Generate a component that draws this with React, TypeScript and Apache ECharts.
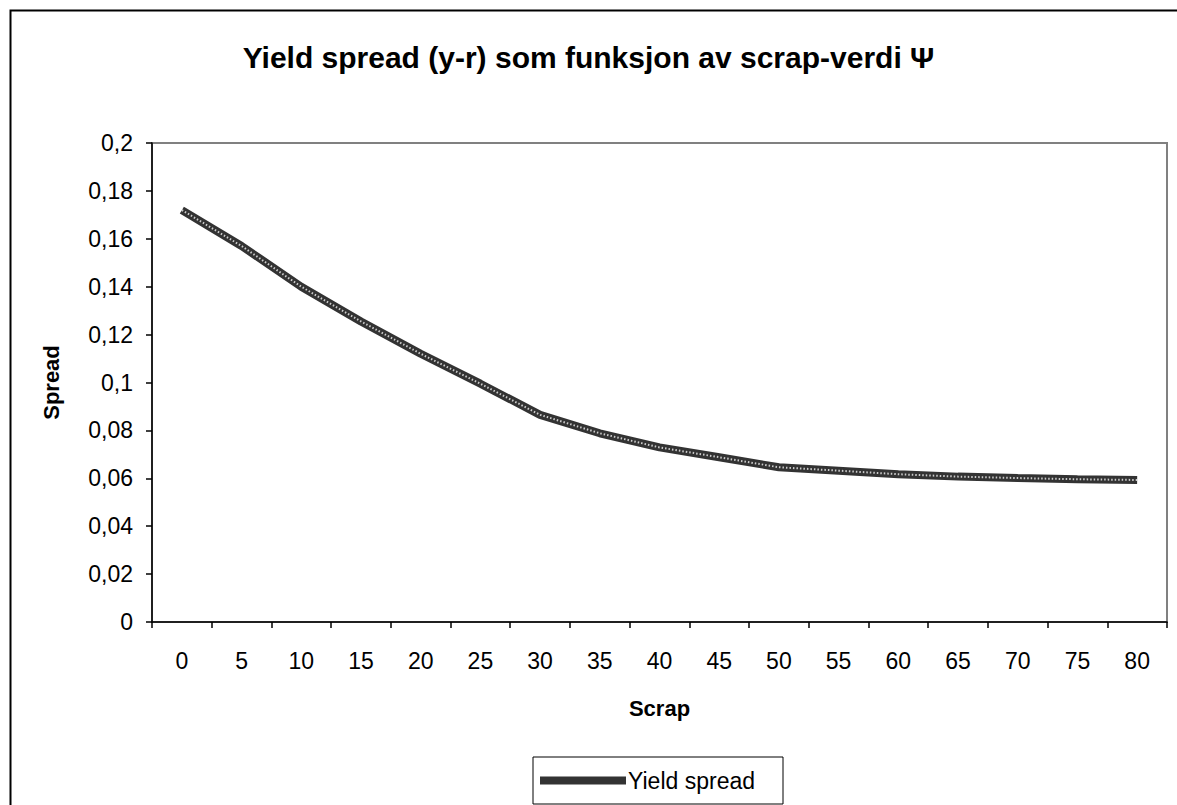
import React, { useEffect, useRef } from "react";
import * as echarts from "echarts";

const categories = ["0", "5", "10", "15", "20", "25", "30", "35", "40", "45", "50", "55", "60", "65", "70", "75", "80"];
const spreadValues = [0.172, 0.157, 0.140, 0.1255, 0.112, 0.0995, 0.0865, 0.0788, 0.0729, 0.0688, 0.0646, 0.0632, 0.0617, 0.0607, 0.0601, 0.0596, 0.0593];
const seriesName = "Yield spread";
const titleText = "Yield spread (y-r) som funksjon av scrap-verdi \u03A8";
const xName = "Scrap";
const yName = "Spread";

const FONT = "'Liberation Sans', Arial, sans-serif";

export default function App() {
  const ref = useRef<HTMLDivElement>(null);
  useEffect(() => {
    if (!ref.current) return;
    const chart = echarts.init(ref.current, null, { renderer: "svg" });
    chart.setOption({
      animation: false,
      backgroundColor: "#fff",
      title: {
        text: titleText,
        left: "center",
        top: 37,
        textStyle: { fontFamily: FONT, fontWeight: "bold", fontSize: 30, color: "#000" },
      },
      legend: {
        left: 533,
        top: 757,
        padding: [12, 28, 12, 7],
        borderColor: "#000",
        borderWidth: 1,
        backgroundColor: "#fff",
        itemWidth: 86,
        itemHeight: 8,
        data: [{ name: seriesName, icon: "rect" }],
        textStyle: { fontFamily: FONT, fontSize: 23, color: "#000", padding: [0, 0, 0, -3] },
      },
      grid: {
        left: 152,
        top: 143,
        width: 1015,
        height: 479,
        show: true,
        borderColor: "#808080",
        borderWidth: 2,
        backgroundColor: "#fff",
      },
      xAxis: {
        type: "category",
        data: categories,
        boundaryGap: true,
        name: xName,
        nameLocation: "middle",
        nameGap: 75,
        nameTextStyle: { fontFamily: FONT, fontWeight: "bold", fontSize: 22, color: "#000" },
        axisLine: { lineStyle: { color: "#000", width: 1.5 } },
        axisTick: { show: true, interval: 0, length: 6, inside: false, lineStyle: { color: "#000", width: 1.5 } },
        axisLabel: { interval: 0, margin: 27, fontFamily: FONT, fontSize: 23, color: "#000" },
        splitLine: { show: false },
      },
      yAxis: {
        type: "value",
        min: 0,
        max: 0.2,
        interval: 0.02,
        name: yName,
        nameLocation: "middle",
        nameGap: 90,
        nameRotate: 90,
        nameTextStyle: { fontFamily: FONT, fontWeight: "bold", fontSize: 22, color: "#000" },
        axisLine: { show: true, lineStyle: { color: "#000", width: 1.5 } },
        axisTick: { show: true, length: 6, inside: false, lineStyle: { color: "#000", width: 1.5 } },
        axisLabel: {
          margin: 19,
          fontFamily: FONT,
          fontSize: 23,
          color: "#000",
          formatter: (v: number) => String(Number(v.toFixed(2))).replace(".", ","),
        },
        splitLine: { show: false },
      },
      series: [
        {
          name: seriesName,
          type: "line",
          data: spreadValues,
          symbol: "none",
          itemStyle: { color: "#333333" },
          lineStyle: { color: "#333333", width: 8 },
        },
        {
          name: "_pattern",
          type: "line",
          data: spreadValues,
          symbol: "none",
          silent: true,
          lineStyle: { color: "#ffffff", width: 2, type: [1.5, 2], opacity: 0.75 },
        },
      ],
      graphic: [
        {
          type: "rect",
          left: 8,
          top: 8,
          shape: { x: 0, y: 0, width: 1200, height: 830 },
          style: { fill: "none", stroke: "#000", lineWidth: 2 },
          silent: true,
        },
      ],
    });
    return () => chart.dispose();
  }, []);
  return <div ref={ref} style={{ position: "absolute", left: 0, top: 0, width: 1177, height: 805 }} />;
}
